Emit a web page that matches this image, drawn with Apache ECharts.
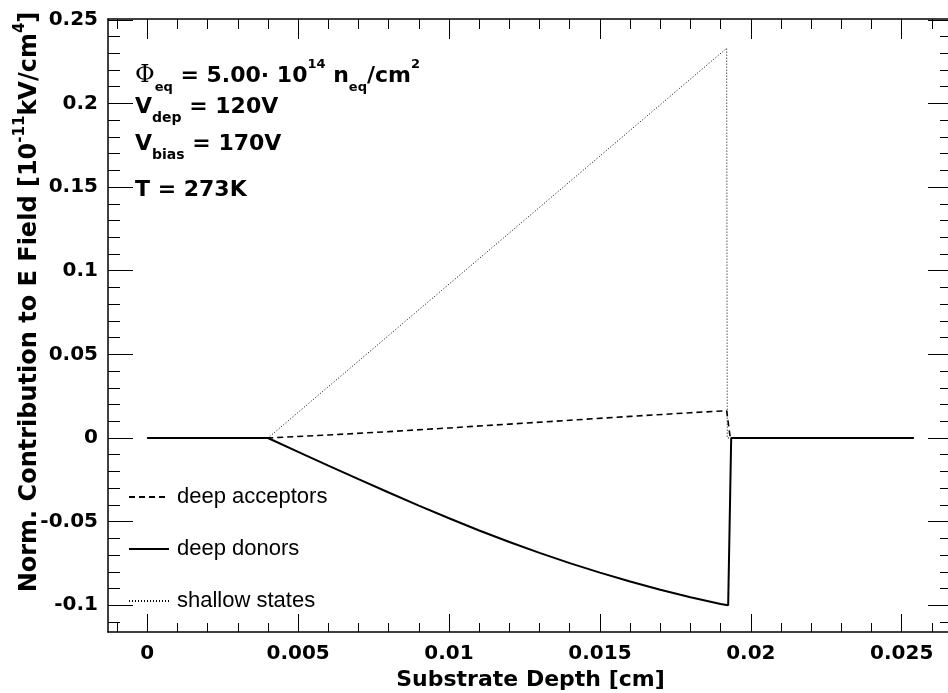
<!DOCTYPE html>
<html><head><meta charset="utf-8">
<script src="https://cdn.jsdelivr.net/npm/echarts@6/dist/echarts.min.js"></script>
<style>html,body{margin:0;padding:0;background:#fff}#c{width:948px;height:693px}</style>
</head><body><div id="c"></div>
<script>
// ---- data ----
const seriesNames = ['deep acceptors', 'deep donors', 'shallow states'];

const acceptorX = [0, 0.004, 0.006, 0.008, 0.010, 0.012, 0.014, 0.016, 0.018, 0.0192, 0.01932, 0.0254];
const acceptorY = [0, 0, 0.0018, 0.0038, 0.0060, 0.0083, 0.0106, 0.0129, 0.0151, 0.0163, 0, 0];

const donorX = [0, 0.004, 0.005, 0.006, 0.007, 0.008, 0.009, 0.010, 0.011, 0.012, 0.013, 0.014, 0.015, 0.016, 0.017, 0.018, 0.019, 0.01925, 0.01935, 0.0254];
const donorY = [0, 0, -0.0083, -0.0165, -0.0246, -0.0326, -0.0404, -0.0480, -0.0553, -0.0622, -0.0687, -0.0748, -0.0805, -0.0858, -0.0907, -0.0952, -0.0992, -0.1000, 0, 0];

const shallowX = [0, 0.004, 0.008, 0.012, 0.016, 0.0192, 0.01922, 0.0254];
const shallowY = [0, 0, 0.0613, 0.1226, 0.1839, 0.2330, 0, 0];

const xMajorTicks = [0, 0.005, 0.01, 0.015, 0.02, 0.025];
const xMinorTicks = [-0.001, 0.001, 0.002, 0.003, 0.004, 0.006, 0.007, 0.008, 0.009, 0.011, 0.012, 0.013, 0.014, 0.016, 0.017, 0.018, 0.019, 0.021, 0.022, 0.023, 0.024, 0.026];
const yMajorTicks = [-0.1, -0.05, 0, 0.05, 0.1, 0.15, 0.2, 0.25];
const yMinorTicks = [-0.11, -0.09, -0.08, -0.07, -0.06, -0.04, -0.03, -0.02, -0.01, 0.01, 0.02, 0.03, 0.04, 0.06, 0.07, 0.08, 0.09, 0.11, 0.12, 0.13, 0.14, 0.16, 0.17, 0.18, 0.19, 0.21, 0.22, 0.23, 0.24];

const xTitle = 'Substrate Depth [cm]';

// ---- build ----
function pairs(xs, ys) { return xs.map((x, i) => [x, ys[i]]); }
const X_MIN = -0.0013, X_MAX = 0.0267, Y_MIN = -0.116, Y_MAX = 0.2505;
const BOLD = 'DejaVu Sans';
const fmt = v => String(Math.round(v * 10000) / 10000);

function xAx(grid, pos, ticks, len, opts) {
  return Object.assign({
    gridIndex: grid, type: 'value', position: pos, min: X_MIN, max: X_MAX,
    axisLine: { show: true, onZero: false, lineStyle: { color: '#000', width: 1.5 } },
    axisTick: { show: true, inside: true, length: len, customValues: ticks, lineStyle: { color: '#000', width: 1 } },
    axisLabel: { show: false },
    splitLine: { show: false }
  }, opts || {});
}
function yAx(grid, pos, ticks, len, opts) {
  return Object.assign({
    gridIndex: grid, type: 'value', position: pos, min: Y_MIN, max: Y_MAX,
    axisLine: { show: true, onZero: false, lineStyle: { color: '#000', width: 1.5 } },
    axisTick: { show: true, inside: true, length: len, customValues: ticks, lineStyle: { color: '#000', width: 1 } },
    axisLabel: { show: false },
    splitLine: { show: false }
  }, opts || {});
}
const labelStyle = { fontFamily: BOLD, fontWeight: 'bold', fontSize: 20, color: '#000', margin: 10, formatter: fmt };

const main = { fontFamily: BOLD, fontWeight: 'bold', fontSize: 22, lineHeight: 36, color: '#000' };
function sub(lh, fs) { return { fontFamily: BOLD, fontWeight: 'bold', fontSize: fs || 14, lineHeight: lh, verticalAlign: 'bottom', color: '#000' }; }
function sup(lh, fs) { return { fontFamily: BOLD, fontWeight: 'bold', fontSize: fs || 14, lineHeight: lh, verticalAlign: 'top', color: '#000' }; }

const gridBox = { left: 108, top: 19, width: 845, height: 613, containLabel: false, outerBoundsMode: 'none' };

const option = {
  animation: false,
  backgroundColor: '#fff',
  grid: [Object.assign({}, gridBox), Object.assign({}, gridBox)],
  xAxis: [
    xAx(0, 'bottom', xMajorTicks, 18, {
      axisLabel: Object.assign({ show: true, customValues: xMajorTicks }, labelStyle, { margin: 12 }),
      name: xTitle, nameLocation: 'middle', nameGap: 37,
      nameTextStyle: { fontFamily: BOLD, fontWeight: 'bold', fontSize: 22, color: '#000' }
    }),
    xAx(0, 'top', xMajorTicks, 20),
    xAx(1, 'bottom', xMinorTicks, 9, { axisLine: { show: false, onZero: false } }),
    xAx(1, 'top', xMinorTicks, 10, { axisLine: { show: false, onZero: false } })
  ],
  yAxis: [
    yAx(0, 'left', yMajorTicks, 25, {
      axisLabel: Object.assign({ show: true, customValues: yMajorTicks }, labelStyle)
    }),
    yAx(0, 'right', yMajorTicks, 25),
    yAx(1, 'left', yMinorTicks, 12, { axisLine: { show: false, onZero: false } }),
    yAx(1, 'right', yMinorTicks, 13, { axisLine: { show: false, onZero: false } })
  ],
  legend: {
    data: seriesNames, orient: 'vertical', left: 128, top: 486, padding: 0,
    itemWidth: 40, itemHeight: 14, itemGap: 30,
    itemStyle: { opacity: 0 },
    textStyle: { fontFamily: 'Liberation Sans', fontSize: 22, lineHeight: 22, color: '#000', padding: [0, 0, 0, 3] }
  },
  series: [
    { name: seriesNames[0], type: 'line', xAxisIndex: 0, yAxisIndex: 0, data: pairs(acceptorX, acceptorY),
      symbol: 'none', lineStyle: { color: '#000', width: 1.6, type: [6, 4] }, itemStyle: { color: '#000' }, z: 3 },
    { name: seriesNames[1], type: 'line', xAxisIndex: 0, yAxisIndex: 0, data: pairs(donorX, donorY),
      symbol: 'none', lineStyle: { color: '#000', width: 2 }, itemStyle: { color: '#000' }, z: 2 },
    { name: seriesNames[2], type: 'line', xAxisIndex: 0, yAxisIndex: 0, data: pairs(shallowX, shallowY),
      symbol: 'none', lineStyle: { color: '#000', width: 1, type: [1, 2] }, itemStyle: { color: '#000' }, z: 4 }
  ],
  graphic: [
    { type: 'text', x: 135, y: 76, style: {
        text: '{phi|Φ}{s1|eq}{m| = 5.00· 10}{p1|14}{m| n}{s1|eq}{m|/cm}{p1|2}',
        verticalAlign: 'middle',
        rich: { phi: { fontFamily: 'DejaVu Serif', fontSize: 24, lineHeight: 36, color: '#000' }, m: main, s1: sub(24, 13), p1: sup(16, 13) } } },
    { type: 'text', x: 135, y: 107, style: {
        text: '{m|V}{s2|dep}{m| = 120V}', verticalAlign: 'middle',
        rich: { m: main, s2: sub(14) } } },
    { type: 'text', x: 135, y: 144, style: {
        text: '{m|V}{s3|bias}{m| = 170V}', verticalAlign: 'middle',
        rich: { m: main, s3: sub(6) } } },
    { type: 'text', x: 135, y: 190, style: {
        text: '{m|T = 273K}', verticalAlign: 'middle', rich: { m: main } } },
    { type: 'text', x: 30, y: 302, rotation: Math.PI / 2, style: {
        text: '{t|Norm. Contribution to E Field [10}{u|-11}{t|kV/cm}{u|4}{t|]}',
        align: 'center', verticalAlign: 'middle',
        rich: {
          t: { fontFamily: BOLD, fontWeight: 'bold', fontSize: 24, lineHeight: 34, color: '#000' },
          u: { fontFamily: BOLD, fontWeight: 'bold', fontSize: 15, lineHeight: 10, verticalAlign: 'top', color: '#000' }
        } } }
  ]
};
const chart = echarts.init(document.getElementById('c'), null, { renderer: 'canvas' });
chart.setOption(option);
</script>
</body></html>
